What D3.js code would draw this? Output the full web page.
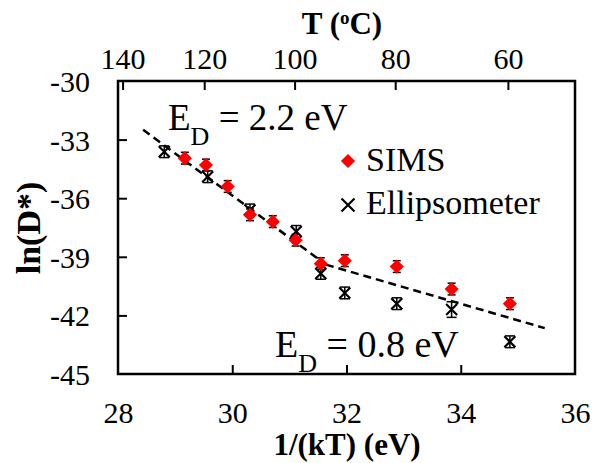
<!DOCTYPE html>
<html><head><meta charset="utf-8">
<script src="https://cdn.jsdelivr.net/npm/d3@7"></script>
<style>
html,body{margin:0;padding:0;background:#fff;}
svg text{font-family:"Liberation Serif","Tinos","Times New Roman","DejaVu Serif",serif !important;fill:#000;}
</style></head>
<body><svg id="c" width="595" height="463" font-family="Liberation Serif, DejaVu Serif, serif"></svg>
<script>
// ---- data ----
const simsX = [29.17, 29.54, 29.92, 30.31, 30.71, 31.11, 31.55, 31.97, 32.88, 33.84, 34.86];
const simsY = [-33.95, -34.30, -35.40, -36.85, -37.20, -38.15, -39.35, -39.20, -39.50, -40.65, -41.40];
const simsErr = [0.3, 0.3, 0.3, 0.3, 0.3, 0.3, 0.3, 0.3, 0.3, 0.3, 0.3];
const ellX = [28.81, 29.57, 30.31, 31.12, 31.55, 31.97, 32.88, 33.84, 34.86];
const ellY = [-33.62, -34.90, -36.60, -37.70, -39.85, -40.85, -41.40, -41.70, -43.35];
const ellErr = [0.3, 0.3, 0.3, 0.3, 0.3, 0.3, 0.3, 0.4, 0.3];
const fitHighX = [28.44, 31.64];
const fitHighY = [-32.50, -39.40];
const fitLowX = [31.64, 35.47];
const fitLowY = [-39.40, -42.65];
const xTicks = [28, 30, 32, 34, 36];
const yTicks = [-30, -33, -36, -39, -42, -45];
const tTicks = [140, 120, 100, 80, 60];
const kB = 8.617e-5;

const FONT = "Liberation Serif, DejaVu Serif, serif";
const svg = d3.select("#c");
const W = 595, H = 463;
const m = {left:118, top:81, right:20, bottom:89};
const x = d3.scaleLinear().domain([28,36]).range([m.left, W-m.right]);
const y = d3.scaleLinear().domain([-45,-30]).range([H-m.bottom, m.top]);
const tToX = t => 1/(kB*(t+273.15));
const FS = 30;
const fmt = d => String(d);

// fit lines
const line = d3.line().x(d=>x(d[0])).y(d=>y(d[1]));
[[fitHighX, fitHighY],[fitLowX, fitLowY]].forEach(([xs,ys])=>{
  svg.append("path").attr("d", line(d3.zip(xs, ys)))
    .attr("fill","none").attr("stroke","#000").attr("stroke-width",2.5).attr("stroke-dasharray","8,5");
});

// error bars helper
function errBars(xs, ys, es, cap, sw){
  const g = svg.append("g").attr("stroke","#000").attr("stroke-width",sw);
  xs.forEach((xv,i)=>{
    const cx = x(xv), y1 = y(ys[i]+es[i]), y2 = y(ys[i]-es[i]);
    g.append("line").attr("x1",cx).attr("x2",cx).attr("y1",y1).attr("y2",y2);
    g.append("line").attr("x1",cx-cap).attr("x2",cx+cap).attr("y1",y1).attr("y2",y1);
    g.append("line").attr("x1",cx-cap).attr("x2",cx+cap).attr("y1",y2).attr("y2",y2);
  });
}
errBars(ellX, ellY, ellErr, 5, 1.5);
errBars(simsX, simsY, simsErr, 4, 1.5);

// ellipsometer X markers
const xm = svg.append("g").attr("stroke","#000").attr("stroke-width",2.2);
ellX.forEach((xv,i)=>{
  const cx=x(xv), cy=y(ellY[i]), r=5.5;
  xm.append("path").attr("d",`M${cx-r},${cy-r}L${cx+r},${cy+r}M${cx-r},${cy+r}L${cx+r},${cy-r}`);
});
// SIMS diamonds
svg.append("g").selectAll("path").data(d3.zip(simsX, simsY)).join("path")
  .attr("transform", d=>`translate(${x(d[0])},${y(d[1])}) rotate(45)`)
  .attr("d", d3.symbol().type(d3.symbolSquare).size(100)).attr("fill","#ff0000");

// frame
svg.append("rect").attr("x",m.left).attr("y",m.top).attr("width",W-m.left-m.right).attr("height",H-m.top-m.bottom)
  .attr("fill","none").attr("stroke","#000").attr("stroke-width",2.5);

// bottom axis
const bx = d3.axisBottom(x).tickValues(xTicks).tickSize(0).tickPadding(0).tickFormat(fmt);
const gb = svg.append("g").attr("transform",`translate(0,${H-m.bottom})`).call(bx).attr("font-family",FONT);
gb.select(".domain").remove();
gb.selectAll("text").attr("font-size",FS).attr("dy",null).attr("y",49);
gb.selectAll(".tick").filter(d=>d>28&&d<36).append("line").attr("y1",0).attr("y2",-9).attr("stroke","#000").attr("stroke-width",2);

// left axis
const ly = d3.axisLeft(y).tickValues(yTicks).tickSize(0).tickPadding(0).tickFormat(fmt);
const gl = svg.append("g").attr("transform",`translate(${m.left},0)`).call(ly).attr("font-family",FONT);
gl.select(".domain").remove();
gl.selectAll("text").attr("font-size",FS).attr("x",-28).attr("dy","0.35em");
gl.selectAll(".tick").filter(d=>d>-45&&d<-30).append("line").attr("x1",0).attr("x2",9).attr("stroke","#000").attr("stroke-width",2);

// top axis (temperature)
const gt = svg.append("g");
tTicks.forEach(t=>{
  const tx = x(tToX(t));
  gt.append("line").attr("x1",tx).attr("x2",tx).attr("y1",m.top).attr("y2",m.top+9).attr("stroke","#000").attr("stroke-width",2);
  gt.append("text").attr("x",tx).attr("y",m.top-12).attr("text-anchor","middle").attr("font-size",FS).text(fmt(t));
});

// axis titles
svg.append("text").attr("x",342).attr("y",34).attr("text-anchor","middle").attr("font-size",31).attr("font-weight","bold")
  .html('T (<tspan baseline-shift="super" font-size="19">o</tspan>C)');
svg.append("text").attr("x",347).attr("y",455).attr("text-anchor","middle").attr("font-size",31).attr("font-weight","bold").text("1/(kT) (eV)");
svg.append("text").attr("transform","translate(40,228) rotate(-90)").attr("text-anchor","middle").attr("font-size",34).attr("font-weight","bold").text("ln(D*)");

// annotations
svg.append("text").attr("x",168).attr("y",130).attr("font-size",37)
  .html('E<tspan baseline-shift="sub" font-size="26">D</tspan> = 2.2 eV');
svg.append("text").attr("x",275).attr("y",357).attr("font-size",38)
  .html('E<tspan baseline-shift="sub" font-size="26">D</tspan> = 0.8 eV');

// legend
svg.append("path").attr("transform","translate(348,161) rotate(45)").attr("d", d3.symbol().type(d3.symbolSquare).size(100)).attr("fill","#ff0000");
svg.append("text").attr("x",366).attr("y",171).attr("font-size",34).text("SIMS");
svg.append("path").attr("d","M341.5,198.5L354.5,211.5M341.5,211.5L354.5,198.5").attr("stroke","#000").attr("stroke-width",2.2);
svg.append("text").attr("x",366).attr("y",214).attr("font-size",34).text("Ellipsometer");
</script></body></html>
